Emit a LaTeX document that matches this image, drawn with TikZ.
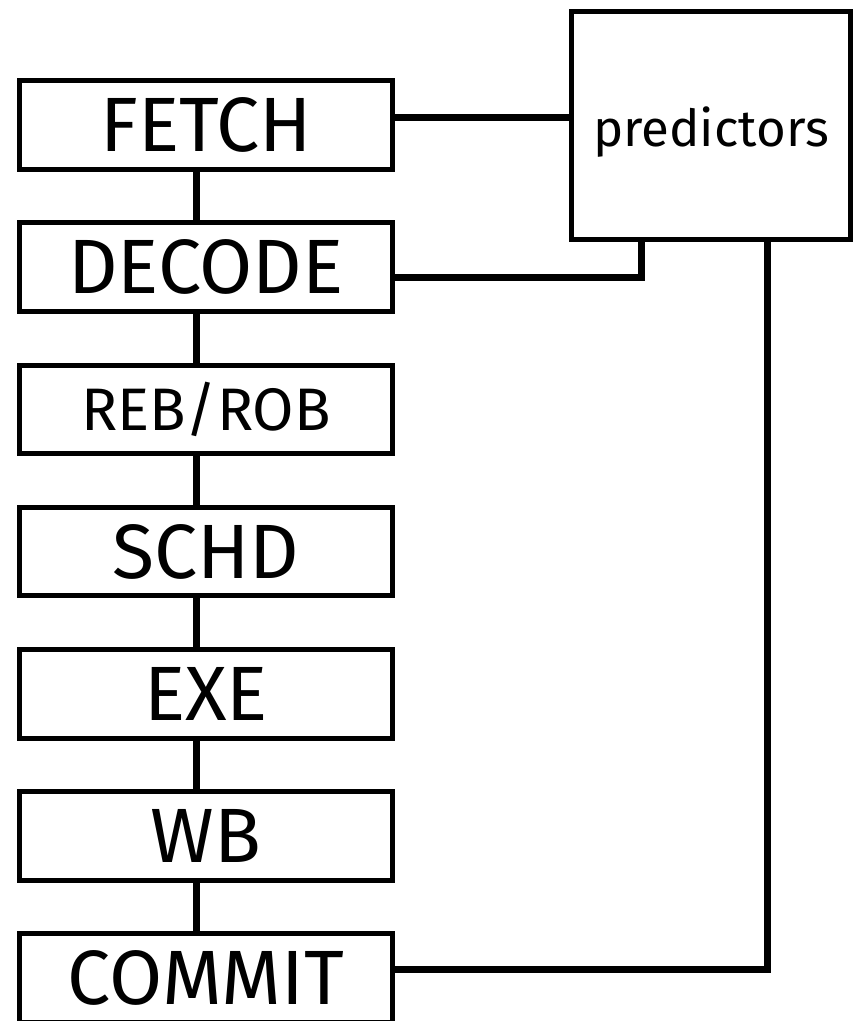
\documentclass[tikz,border=0pt]{standalone}
\usepackage{fontspec}
\setmainfont{Fira Sans}
\usetikzlibrary{positioning}

\begin{document}
\begin{tikzpicture}[
    x=1pt, y=-1pt,
    node distance=48.7pt and 174pt,
    stage/.style={rectangle, draw=black, line width=5pt, minimum width=373pt, minimum height=88.5pt, inner sep=0pt, font=\fontsize{77}{80}\selectfont},
    smallstage/.style={stage, font=\fontsize{60}{62}\selectfont},
    unit/.style={rectangle, draw=black, line width=5pt, minimum width=279pt, minimum height=228pt, inner sep=0pt, font=\fontsize{51}{54}\selectfont},
    link/.style={draw=black, line width=7pt},
]
\useasboundingbox (0,0) rectangle (858,1021);

% Pipeline stages
\node[stage] (fetch) at (206,125) {FETCH};
\node[stage, below=of fetch] (decode) {DECODE};
\node[smallstage, below=of decode] (rob) {REB/ROB};
\node[stage, below=of rob] (schd) {SCHD};
\node[stage, below=of schd] (exe) {EXE};
\node[stage, below=of exe] (wb) {WB};
\node[stage, below=of wb] (commit) {COMMIT};

% Predictor block
\node[unit, right=of fetch] (pred) {\raisebox{-7pt}[\height][\depth]{predictors}};

% Stage chain
\foreach \a/\b in {fetch/decode, decode/rob, rob/schd, schd/exe, exe/wb, wb/commit}
    \draw[link] ([xshift=-10pt]\a.south) -- ([xshift=-10pt]\b.north);

% Links to the predictors
\draw[link] ([yshift=8pt]fetch.east) -- ([yshift=8pt]fetch.east -| pred.west);
\draw[link] ([yshift=-10pt]decode.east) -| ([xshift=-70pt]pred.south);
\draw[link] ([yshift=9pt]commit.east) -| ([xshift=56pt]pred.south);

\end{tikzpicture}
\end{document}
